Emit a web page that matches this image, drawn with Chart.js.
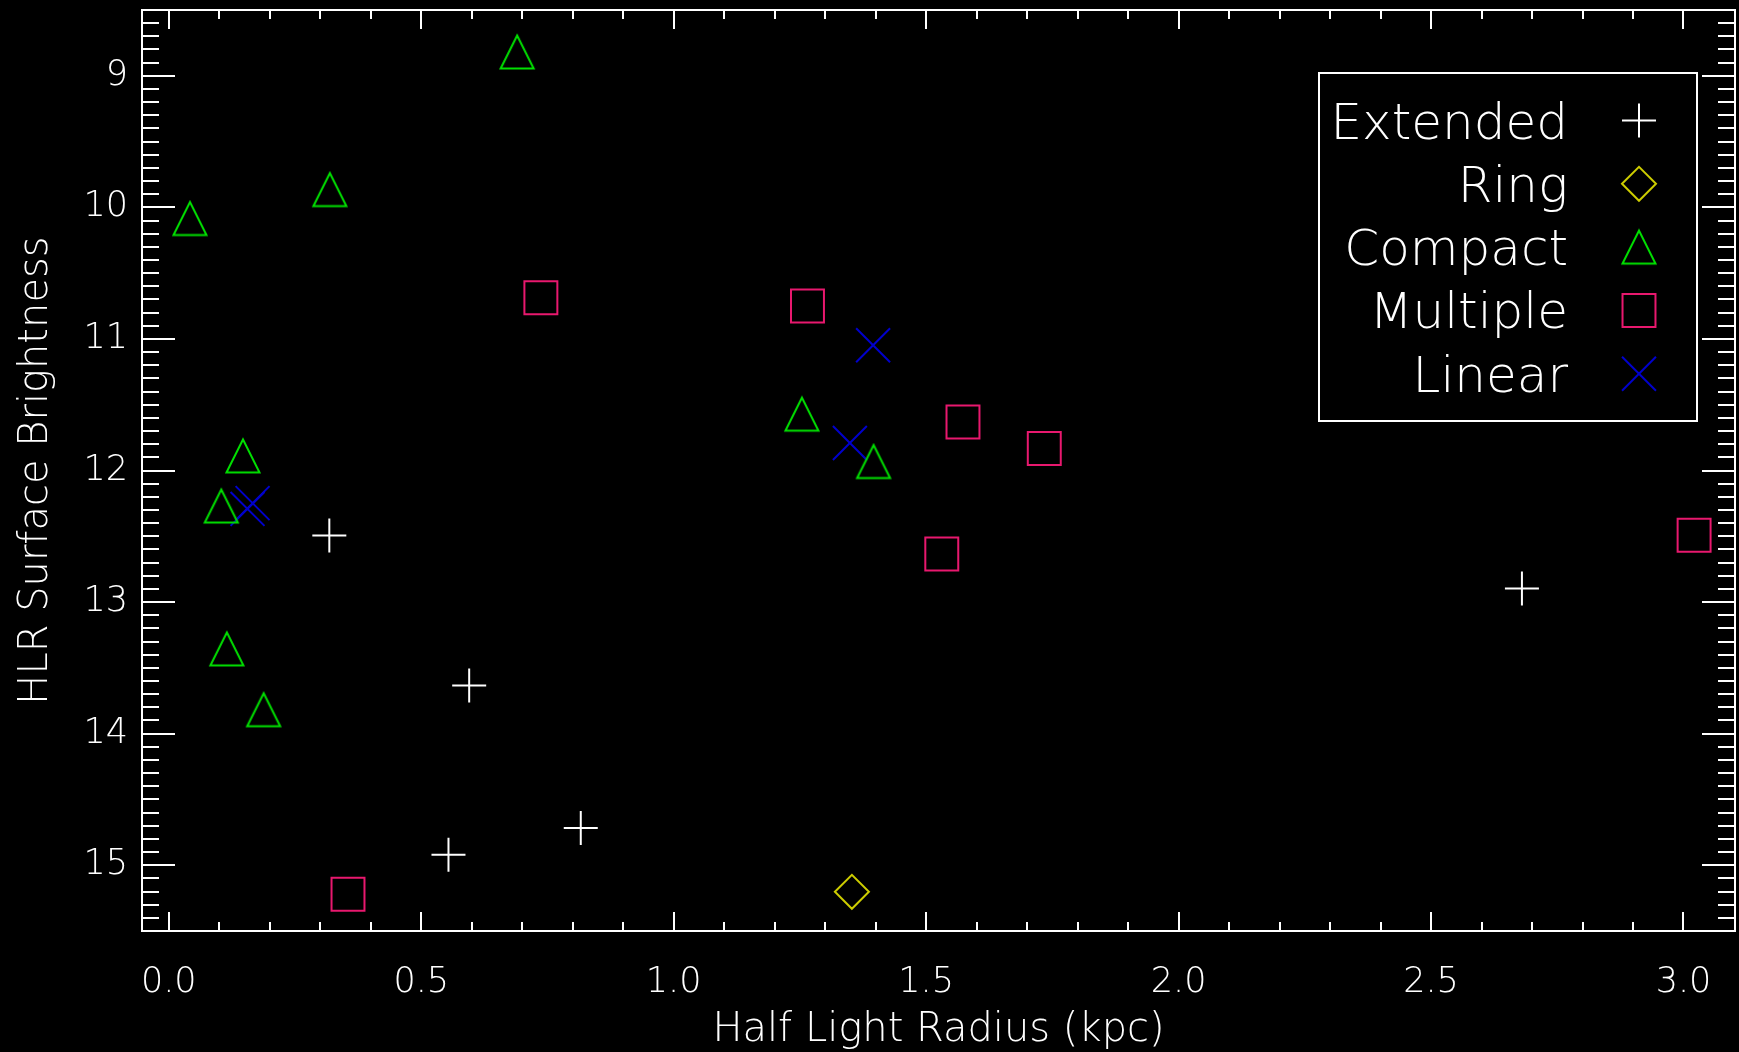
<!DOCTYPE html>
<html>
<head>
<meta charset="utf-8">
<title>Half Light Radius vs HLR Surface Brightness</title>
<script src="https://cdn.jsdelivr.net/npm/chart.js@4.4.1/dist/chart.umd.min.js"></script>
<style>
  html, body { margin: 0; padding: 0; background: #000; overflow: hidden; }
  canvas { display: block; }
</style>
</head>
<body>
<canvas id="c" width="1739" height="1052"></canvas>
<script>
// Half light radius (kpc) and HLR surface brightness for each morphology class
const extendedX = [0.318, 0.595, 0.816, 0.554, 2.680];
const extendedY = [12.494, 13.635, 14.718, 14.921, 12.896];

const ringX = [1.353];
const ringY = [15.202];

const compactX = [0.690, 0.319, 0.042, 0.147, 0.104, 0.115, 0.188, 1.254, 1.396];
const compactY = [8.819, 9.865, 10.085, 11.889, 12.270, 13.356, 13.818, 11.572, 11.932];

const multipleX = [0.737, 1.265, 1.573, 1.734, 1.531, 3.021, 0.355];
const multipleY = [10.687, 10.749, 11.631, 11.833, 12.634, 12.492, 15.221];

const linearX = [1.395, 1.349, 0.156, 0.166];
const linearY = [11.048, 11.791, 12.292, 12.248];

const classNames = ['Extended', 'Ring', 'Compact', 'Multiple', 'Linear'];

const xTickValues = [0.0, 0.5, 1.0, 1.5, 2.0, 2.5, 3.0];
const yTickValues = [9, 10, 11, 12, 13, 14, 15];

const FONT = '"DejaVu Sans", "Liberation Sans", sans-serif';
const FONT_WEIGHT = 200;
const FG = '#ffffff';

const toPoints = (xs, ys) => xs.map((x, i) => ({ x: x, y: ys[i] }));

// Outline triangle centred on its bounding box
function triangleStyle(color) {
  const c = document.createElement('canvas');
  c.width = 38; c.height = 38;
  const g = c.getContext('2d');
  g.strokeStyle = color;
  g.lineWidth = 2;
  g.beginPath();
  g.moveTo(2.5, 35.5);
  g.lineTo(19, 2.5);
  g.lineTo(35.5, 35.5);
  g.closePath();
  g.stroke();
  return c;
}

const classStyles = [
  { color: '#ffffff', pointStyle: 'cross',    radius: 17 },
  { color: '#cccc00', pointStyle: 'rectRot',  radius: 17 },
  { color: '#00e000', pointStyle: null,       radius: 19 },
  { color: '#e8186e', pointStyle: 'rect',     radius: 23.3 },
  { color: '#0000cc', pointStyle: 'crossRot', radius: 24 }
];
classStyles[2].pointStyle = triangleStyle(classStyles[2].color);

const classData = [
  toPoints(extendedX, extendedY),
  toPoints(ringX, ringY),
  toPoints(compactX, compactY),
  toPoints(multipleX, multipleY),
  toPoints(linearX, linearY)
];

const datasets = classNames.map((name, i) => ({
  label: name,
  data: classData[i],
  pointStyle: classStyles[i].pointStyle,
  pointRadius: classStyles[i].radius,
  pointHoverRadius: classStyles[i].radius,
  pointBorderWidth: 2,
  pointBorderColor: classStyles[i].color,
  borderColor: classStyles[i].color,
  pointBackgroundColor: 'rgba(0,0,0,0)',
  backgroundColor: 'rgba(0,0,0,0)',
  showLine: false
}));

// Black background, plot frame with inward major/minor ticks on all four sides
const framePlugin = {
  id: 'frame',
  beforeDraw(chart) {
    const ctx = chart.ctx;
    ctx.save();
    ctx.fillStyle = '#000';
    ctx.fillRect(0, 0, chart.width, chart.height);
    ctx.restore();
  },
  afterDatasetsDraw(chart) {
    const ctx = chart.ctx;
    const a = chart.chartArea;
    const xs = chart.scales.x, ys = chart.scales.y;
    ctx.save();
    ctx.strokeStyle = FG;
    ctx.lineWidth = 2;
    ctx.strokeRect(a.left, a.top, a.right - a.left, a.bottom - a.top);

    ctx.beginPath();
    // x ticks every 0.1, major every 0.5
    for (let k = Math.ceil(xs.min * 10); k <= Math.floor(xs.max * 10); k++) {
      const v = k / 10;
      const px = Math.round(xs.getPixelForValue(v));
      if (px <= a.left + 1 || px >= a.right - 1) continue;
      const len = (k % 5 === 0) ? 19 : 9;
      ctx.moveTo(px, a.bottom); ctx.lineTo(px, a.bottom - len);
      ctx.moveTo(px, a.top); ctx.lineTo(px, a.top + len);
    }
    // y ticks every 0.1, major every 1
    for (let k = Math.ceil(ys.min * 10); k <= Math.floor(ys.max * 10); k++) {
      const v = k / 10;
      const py = Math.round(ys.getPixelForValue(v));
      if (py <= a.top + 1 || py >= a.bottom - 1) continue;
      const len = (k % 10 === 0) ? 33 : 17;
      ctx.moveTo(a.left, py); ctx.lineTo(a.left + len, py);
      ctx.moveTo(a.right, py); ctx.lineTo(a.right - len, py);
    }
    ctx.stroke();
    ctx.restore();
  }
};

// Boxed key: right-aligned class names with their symbols to the right
const keyPlugin = {
  id: 'classKey',
  afterDraw(chart) {
    const ctx = chart.ctx;
    const a = chart.chartArea;
    const boxRight = a.right - 38, boxTop = a.top + 63;
    const boxW = 378, boxH = 348;
    const textRight = boxRight - 129, symX = boxRight - 58;
    const row0 = boxTop + 47.5, rowStep = 63.3;
    ctx.save();
    ctx.strokeStyle = FG;
    ctx.lineWidth = 2;
    ctx.strokeRect(boxRight - boxW, boxTop, boxW, boxH);
    ctx.font = FONT_WEIGHT + ' 50px ' + FONT;
    ctx.textAlign = 'right';
    ctx.textBaseline = 'alphabetic';
    chart.data.datasets.forEach((ds, i) => {
      const y = row0 + i * rowStep;
      ctx.fillStyle = FG;
      ctx.fillText(ds.label, textRight, y + 18);
      ctx.strokeStyle = ds.pointBorderColor;
      ctx.fillStyle = 'rgba(0,0,0,0)';
      ctx.lineWidth = 2;
      Chart.helpers.drawPoint(ctx, {
        pointStyle: ds.pointStyle,
        radius: ds.pointRadius,
        rotation: 0,
        borderWidth: 2
      }, symX, y);
    });
    ctx.restore();
  }
};

new Chart(document.getElementById('c'), {
  type: 'scatter',
  data: { datasets: datasets },
  plugins: [framePlugin, keyPlugin],
  options: {
    responsive: false,
    devicePixelRatio: 1,
    animation: false,
    events: [],
    layout: { autoPadding: false, padding: { top: 10, right: 4, left: 0, bottom: 0 } },
    plugins: {
      legend: { display: false },
      tooltip: { enabled: false },
      title: { display: false }
    },
    scales: {
      x: {
        type: 'linear',
        min: -0.053,
        max: 3.102,
        grid: { display: false, drawTicks: false },
        border: { display: false },
        afterBuildTicks: s => { s.ticks = xTickValues.map(v => ({ value: v })); },
        afterFit: s => {
          s.height = 121;
          s.paddingLeft = 0; s.paddingRight = 0;
        },
        ticks: {
          color: FG,
          font: { family: FONT, size: 35, weight: FONT_WEIGHT },
          padding: 31,
          maxRotation: 0,
          autoSkip: false,
          callback: v => Number(v).toFixed(1)
        },
        title: {
          display: true,
          text: 'Half Light Radius (kpc)',
          color: FG,
          font: { family: FONT, size: 40, lineHeight: 1.08, weight: FONT_WEIGHT },
          padding: { top: 0, bottom: 0 }
        }
      },
      y: {
        type: 'linear',
        reverse: true,
        min: 8.5,
        max: 15.5,
        grid: { display: false, drawTicks: false },
        border: { display: false },
        afterBuildTicks: s => { s.ticks = yTickValues.map(v => ({ value: v })); },
        afterFit: s => {
          s.width = 142;
          s.paddingTop = 0; s.paddingBottom = 0;
        },
        ticks: {
          color: FG,
          font: { family: FONT, size: 35, weight: FONT_WEIGHT },
          padding: 14,
          autoSkip: false,
          callback: v => String(v)
        },
        title: {
          display: true,
          text: 'HLR Surface Brightness',
          color: FG,
          font: { family: FONT, size: 40, lineHeight: 1.08, weight: FONT_WEIGHT },
          padding: { top: 15, bottom: 0 }
        }
      }
    }
  }
});
</script>
</body>
</html>
